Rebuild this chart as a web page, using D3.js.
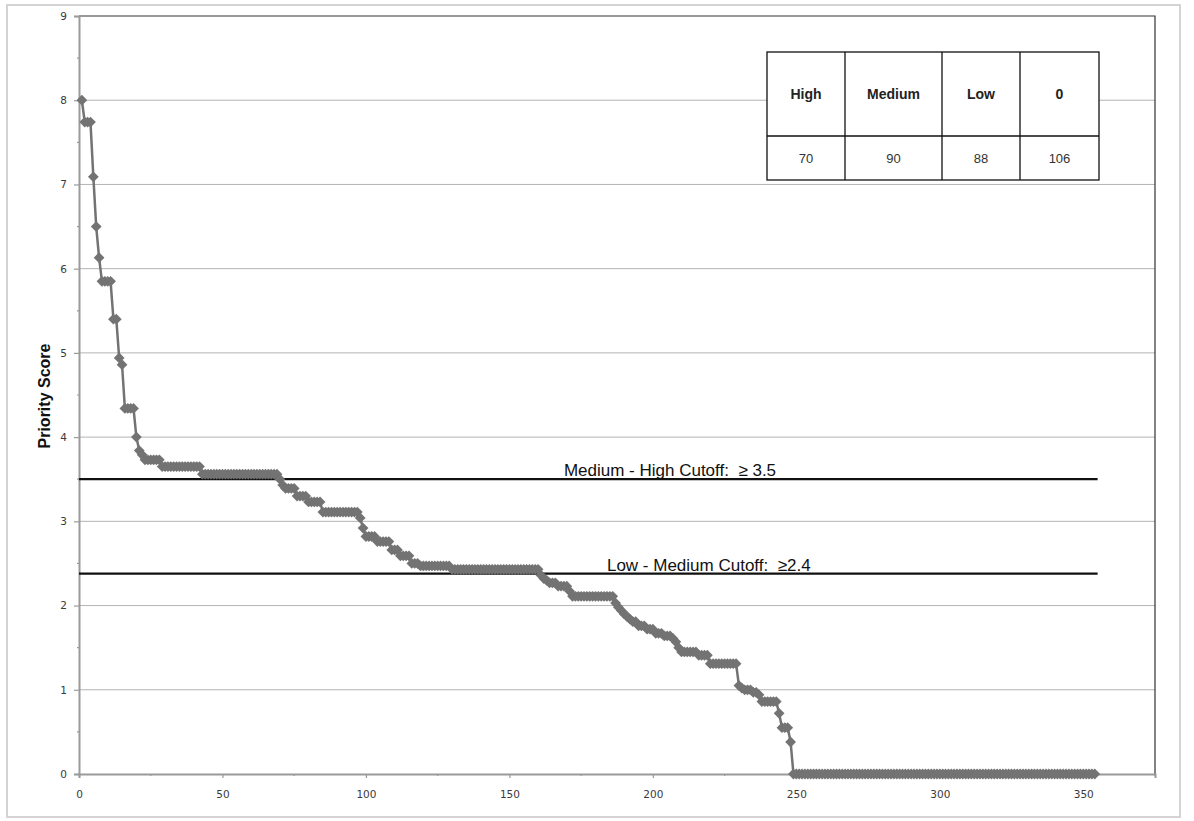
<!DOCTYPE html>
<html>
<head>
<meta charset="utf-8">
<script src="https://cdn.jsdelivr.net/npm/d3@7"></script>
<style>
  html, body { margin: 0; padding: 0; background: #fff; }
  svg { display: block; }
</style>
</head>
<body>
<svg id="chart" width="1194" height="821"></svg>
<script>
// ---- Data ----
const priorityScores = [
  8.00,
  7.74, 7.74, 7.74,
  7.09,
  6.50,
  6.13,
  5.85, 5.85, 5.85, 5.85,
  5.40, 5.40,
  4.94,
  4.86,
  4.34, 4.34, 4.34, 4.34,
  4.00,
  3.84,
  3.79,
  3.73, 3.73, 3.73, 3.73, 3.73, 3.73,
  3.65, 3.65, 3.65, 3.65, 3.65, 3.65, 3.65, 3.65, 3.65, 3.65, 3.65, 3.65, 3.65, 3.65,
  3.56, 3.56, 3.56, 3.56, 3.56, 3.56, 3.56, 3.56, 3.56, 3.56,
  3.56, 3.56, 3.56, 3.56, 3.56, 3.56, 3.56, 3.56, 3.56, 3.56,
  3.56, 3.56, 3.56, 3.56, 3.56, 3.56, 3.56,
  3.50,
  3.43,
  3.39, 3.39, 3.39, 3.39,
  3.30, 3.30, 3.30, 3.30,
  3.23, 3.23, 3.23, 3.23, 3.23,
  3.11, 3.11, 3.11, 3.11, 3.11, 3.11, 3.11, 3.11, 3.11, 3.11, 3.11, 3.11, 3.11,
  3.04,
  2.92,
  2.82, 2.82, 2.82, 2.82,
  2.76, 2.76, 2.76, 2.76, 2.76,
  2.66, 2.66, 2.66,
  2.59, 2.59, 2.59, 2.59,
  2.50, 2.50, 2.50,
  2.47, 2.47, 2.47, 2.47, 2.47, 2.47, 2.47, 2.47, 2.47, 2.47, 2.47,
  2.43, 2.43, 2.43, 2.43, 2.43, 2.43, 2.43, 2.43, 2.43, 2.43,
  2.43, 2.43, 2.43, 2.43, 2.43, 2.43, 2.43, 2.43, 2.43, 2.43,
  2.43, 2.43, 2.43, 2.43, 2.43, 2.43, 2.43, 2.43, 2.43, 2.43, 2.43,
  2.36,
  2.32,
  2.30,
  2.27, 2.27, 2.27,
  2.23, 2.23, 2.23, 2.23,
  2.17,
  2.11, 2.11, 2.11, 2.11, 2.11, 2.11, 2.11, 2.11, 2.11, 2.11, 2.11, 2.11, 2.11, 2.11, 2.11,
  2.03, 1.98, 1.94, 1.90, 1.87, 1.84,
  1.81, 1.81,
  1.76, 1.76, 1.76,
  1.72, 1.72, 1.72,
  1.67, 1.67, 1.67,
  1.64, 1.64, 1.64,
  1.61, 1.57, 1.50,
  1.45, 1.45, 1.45, 1.45, 1.45, 1.45,
  1.41, 1.41, 1.41, 1.41,
  1.31, 1.31, 1.31, 1.31, 1.31, 1.31, 1.31, 1.31, 1.31, 1.31,
  1.05, 1.02,
  1.00, 1.00, 1.00,
  0.97, 0.97,
  0.94,
  0.86, 0.86, 0.86, 0.86, 0.86, 0.86,
  0.72,
  0.55, 0.55, 0.55,
  0.38,
  0, 0, 0, 0, 0, 0, 0, 0, 0, 0,
  0, 0, 0, 0, 0, 0, 0, 0, 0, 0,
  0, 0, 0, 0, 0, 0, 0, 0, 0, 0,
  0, 0, 0, 0, 0, 0, 0, 0, 0, 0,
  0, 0, 0, 0, 0, 0, 0, 0, 0, 0,
  0, 0, 0, 0, 0, 0, 0, 0, 0, 0,
  0, 0, 0, 0, 0, 0, 0, 0, 0, 0,
  0, 0, 0, 0, 0, 0, 0, 0, 0, 0,
  0, 0, 0, 0, 0, 0, 0, 0, 0, 0,
  0, 0, 0, 0, 0, 0, 0, 0, 0, 0,
  0, 0, 0, 0, 0, 0
];
const xTicks = [0, 50, 100, 150, 200, 250, 300, 350];
const yTicks = [0, 1, 2, 3, 4, 5, 6, 7, 8, 9];
const cutoffValues = [3.5, 2.38];
const cutoffLabels = ["Medium - High Cutoff:  \u2265 3.5", "Low - Medium Cutoff:  \u22652.4"];
const cutoffLabelX = [169, 184];
const tableHeaders = ["High", "Medium", "Low", "0"];
const tableCounts = [70, 90, 88, 106];
const yAxisTitle = "Priority Score";

(function () {
// ---- Layout ----
const svg = d3.select("#chart");
const pLeft = 79, pRight = 1155, pTop = 16, pBottom = 774;
const x = d3.scaleLinear().domain([0, 375]).range([pLeft, pRight]);
const y = d3.scaleLinear().domain([0, 9]).range([pBottom, pTop]);

// outer chart frame
svg.append("rect").attr("x", 7).attr("y", 5).attr("width", 1173).attr("height", 812)
  .attr("fill", "#fff").attr("stroke", "#d4d4d4").attr("stroke-width", 2);

// gridlines
svg.append("g").selectAll("line").data(yTicks.slice(1, -1)).join("line")
  .attr("x1", pLeft).attr("x2", pRight)
  .attr("y1", d => y(d)).attr("y2", d => y(d))
  .attr("stroke", "#b4b4b4").attr("stroke-width", 1);

// plot area border (top/right)
svg.append("path")
  .attr("d", `M${pLeft},${pTop}H${pRight}V${pBottom}`)
  .attr("fill", "none").attr("stroke", "#333").attr("stroke-width", 1.2);

// axes
const yAxis = d3.axisLeft(y).tickValues(yTicks).tickSize(5).tickPadding(7).tickFormat(d3.format("d"));
const gy = svg.append("g").attr("transform", `translate(${pLeft},0)`).call(yAxis);
const xAxis = d3.axisBottom(x).tickValues(xTicks).tickSize(4).tickPadding(13).tickFormat(d3.format("d"));
const gx = svg.append("g").attr("transform", `translate(0,${pBottom})`).call(xAxis);
[gx, gy].forEach(g => {
  g.select(".domain").attr("stroke", "#9a9a9a").attr("stroke-width", 2);
  g.selectAll(".tick line").attr("stroke", "#9a9a9a").attr("stroke-width", 1.2);
  g.selectAll(".tick text").attr("fill", "#3a3a3a")
    .attr("font-family", "DejaVu Sans, sans-serif").attr("font-size", 10.5);
});
// minor ticks
svg.append("g").selectAll("line").data(d3.range(0.5, 9, 1)).join("line")
  .attr("x1", pLeft - 2).attr("x2", pLeft).attr("y1", d => y(d)).attr("y2", d => y(d))
  .attr("stroke", "#9a9a9a").attr("stroke-width", 1.2);
svg.append("g").selectAll("line").data(d3.range(25, 376, 50)).join("line")
  .attr("x1", d => x(d)).attr("x2", d => x(d)).attr("y1", pBottom).attr("y2", pBottom + 2)
  .attr("stroke", "#9a9a9a").attr("stroke-width", 1.2);

// y axis title
svg.append("text")
  .attr("transform", `translate(50,396) rotate(-90)`)
  .attr("text-anchor", "middle")
  .attr("font-family", "Liberation Sans, Arial, sans-serif")
  .attr("font-weight", "bold").attr("font-size", 16).attr("fill", "#111")
  .text(yAxisTitle);

// cutoff lines
svg.append("g").selectAll("line").data(cutoffValues).join("line")
  .attr("x1", x(0)).attr("x2", x(355))
  .attr("y1", d => y(d)).attr("y2", d => y(d))
  .attr("stroke", "#111").attr("stroke-width", 2.2);

// series
const pts = priorityScores.map((v, i) => [i + 1, v]);
const line = d3.line().x(d => x(d[0])).y(d => y(d[1]));
svg.append("path").datum(pts).attr("d", line)
  .attr("fill", "none").attr("stroke", "#737373").attr("stroke-width", 2.5)
  .attr("stroke-linejoin", "round");
const marker = d3.symbol().type(d3.symbolSquare).size(58);
svg.append("g").selectAll("path").data(pts).join("path")
  .attr("transform", d => `translate(${x(d[0])},${y(d[1])}) rotate(45)`)
  .attr("d", marker)
  .attr("fill", "#737373");

// cutoff labels
svg.append("g").selectAll("text").data(cutoffValues).join("text")
  .attr("x", (d, i) => x(cutoffLabelX[i]))
  .attr("y", d => y(d) - 3)
  .attr("font-family", "Liberation Sans, Arial, sans-serif")
  .attr("font-size", 17).attr("fill", "#111")
  .style("white-space", "pre")
  .text((d, i) => cutoffLabels[i]);

// summary table
const colEdges = [767, 845, 942, 1020, 1099];
const rowEdges = [52, 136, 180];
const tg = svg.append("g");
tg.append("rect").attr("x", colEdges[0]).attr("y", rowEdges[0])
  .attr("width", colEdges[4] - colEdges[0]).attr("height", rowEdges[2] - rowEdges[0])
  .attr("fill", "#fff").attr("stroke", "#111").attr("stroke-width", 1.3);
tg.selectAll("line.c").data(colEdges.slice(1, -1)).join("line")
  .attr("x1", d => d).attr("x2", d => d).attr("y1", rowEdges[0]).attr("y2", rowEdges[2])
  .attr("stroke", "#111").attr("stroke-width", 1.3);
tg.append("line").attr("x1", colEdges[0]).attr("x2", colEdges[4])
  .attr("y1", rowEdges[1]).attr("y2", rowEdges[1])
  .attr("stroke", "#111").attr("stroke-width", 1.3);
tg.selectAll("text.h").data(tableHeaders).join("text")
  .attr("x", (d, i) => (colEdges[i] + colEdges[i + 1]) / 2)
  .attr("y", (rowEdges[0] + rowEdges[1]) / 2 + 5)
  .attr("text-anchor", "middle")
  .attr("font-family", "Liberation Sans, Arial, sans-serif")
  .attr("font-weight", "bold").attr("font-size", 14).attr("fill", "#222")
  .text(d => d);
tg.selectAll("text.v").data(tableCounts).join("text")
  .attr("x", (d, i) => (colEdges[i] + colEdges[i + 1]) / 2)
  .attr("y", (rowEdges[1] + rowEdges[2]) / 2 + 5)
  .attr("text-anchor", "middle")
  .attr("font-family", "Liberation Sans, Arial, sans-serif")
  .attr("font-size", 13).attr("fill", "#333")
  .text(d => d);
})();
</script>
</body>
</html>
